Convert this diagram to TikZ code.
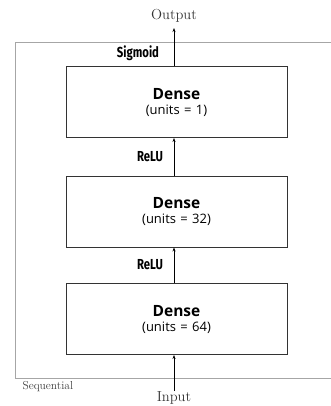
\documentclass[tikz,border=0pt]{standalone}
\usepackage{fontspec}
\newfontfamily\boxfont{Open Sans}
\newfontfamily\actfont[FakeStretch=0.78]{Fira Sans}
\usetikzlibrary{arrows.meta}
\newcommand\layertext[1]{{\bfseries\fontsize{15.5}{18}\selectfont Dense}\\[3pt]{\fontsize{13}{15}\selectfont (units\,\,=\,\,#1)}}
\begin{document}
\begin{tikzpicture}[x=1pt,y=-1pt,
  layer/.style={draw=black!80, line width=0.9pt, minimum width=221pt, minimum height=71pt,
    inner sep=0pt, align=center, font=\boxfont, fill=white},
  flow/.style={-{Stealth[length=4pt,width=3pt]}, line width=1pt, black},
  act/.style={font=\actfont\bfseries\fontsize{14.5}{16}\selectfont},
  io/.style={font=\fontsize{14.5}{16}\selectfont, text=black!80}]
\useasboundingbox (0,0) rectangle (330,406);
% container
\draw[black!35, line width=1pt] (332,43) -- (15.5,43) -- (15.5,378) -- (332,378);
\node[anchor=west, font=\fontsize{11.5}{12}\selectfont, text=black!75] (seq) at (19,387) {Sequential};
% layers
\node[layer] (d1) at (176.5,102) {\layertext{1}};
\node[layer] (d2) at (176.5,211.5) {\layertext{32}};
\node[layer] (d3) at (176.5,319) {\layertext{64}};
% input / output
\node[io] (out) at (174,16) {Output};
\node[io] (in) at (174,398) {Input};
\coordinate (outtip) at (174,28);
\coordinate (inbase) at (174,391);
% connectors
\draw[flow] (inbase) -- (d3.south -| inbase);
\draw[flow] (d3.north -| inbase) -- (d2.south -| inbase);
\draw[flow] (d2.north -| inbase) -- (d1.south -| inbase);
\draw[flow] (d1.north -| inbase) -- (outtip);
% activation labels
\node[act] (a1) at (138,53) {Sigmoid};
\node[act] (a2) at (150,157) {ReLU};
\node[act] (a3) at (150,265) {ReLU};
\end{tikzpicture}
\end{document}
